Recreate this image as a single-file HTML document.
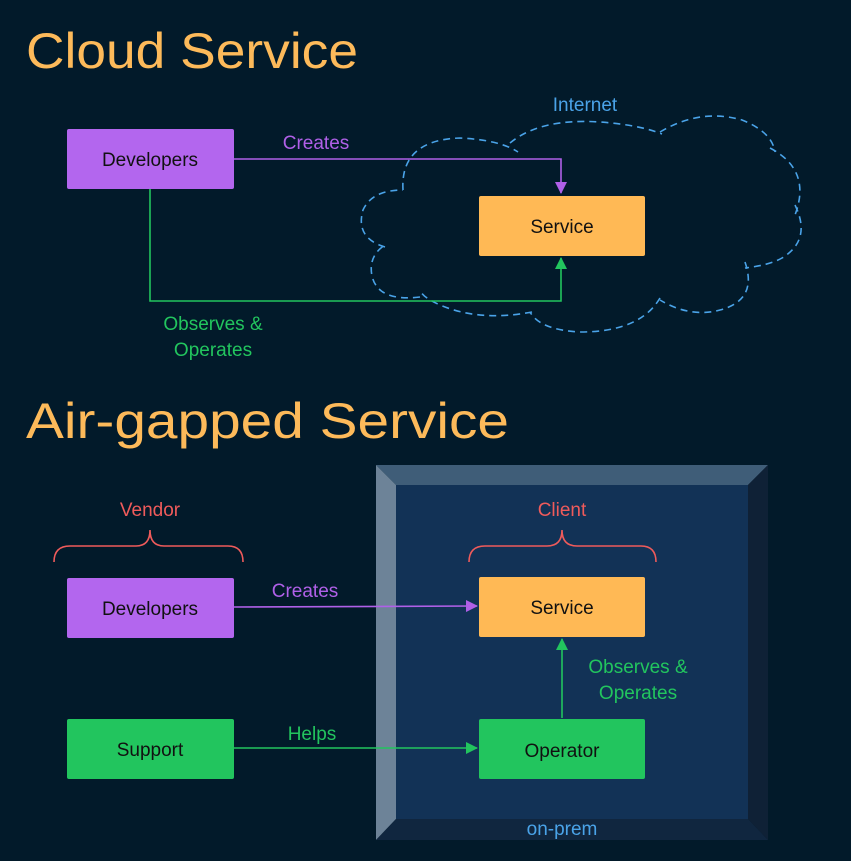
<!DOCTYPE html>
<html><head><meta charset="utf-8"><style>
html,body{margin:0;padding:0;background:#021a2a;}
svg{display:block}
text{font-family:"Liberation Sans",sans-serif;}
</style></head><body>
<svg width="851" height="861" viewBox="0 0 851 861" xmlns="http://www.w3.org/2000/svg">
<rect width="851" height="861" fill="#021a2a"/>
<defs>
<marker id="ap" markerWidth="12" markerHeight="12" refX="11" refY="6" orient="auto" markerUnits="userSpaceOnUse"><path d="M0,0 L12,6 L0,12 Z" fill="#b060e8"/></marker>
<marker id="ag" markerWidth="12" markerHeight="12" refX="11" refY="6" orient="auto" markerUnits="userSpaceOnUse"><path d="M0,0 L12,6 L0,12 Z" fill="#22c55e"/></marker>
</defs>

<text x="26" y="68" font-size="50" fill="#fdba5a" textLength="332" lengthAdjust="spacingAndGlyphs">Cloud Service</text>
<text x="26" y="438" font-size="50" fill="#fdba5a" textLength="483" lengthAdjust="spacingAndGlyphs">Air-gapped Service</text>

<!-- cloud -->
<path d="M403,190 Q400,140 460,138 Q500,140 518,152 M510,143 Q540,118 600,122 Q640,125 662,134 M660,132 Q700,108 742,120 Q772,132 775,152 M770,148 Q812,170 795,215 M795,205 Q812,240 782,258 Q770,265 745,268 M745,262 Q758,300 720,310 Q690,318 660,300 M660,298 Q640,332 580,332 Q540,330 530,312 M532,312 Q480,322 440,305 Q422,297 420,290 M420,297 Q378,302 372,276 Q368,256 385,245 M385,247 Q355,238 363,210 Q372,190 403,190" fill="none" stroke="#4aa3e8" stroke-width="1.6" stroke-dasharray="7,5"/>
<text x="585" y="111" font-size="19" fill="#4aa3e8" text-anchor="middle">Internet</text>

<!-- top diagram -->
<path d="M234,159 L561,159 L561,193" fill="none" stroke="#b060e8" stroke-width="1.6" marker-end="url(#ap)"/>
<text x="316" y="149" font-size="19" fill="#b060e8" text-anchor="middle">Creates</text>
<path d="M150,189 L150,301 L561,301 L561,258" fill="none" stroke="#22c55e" stroke-width="1.6" marker-end="url(#ag)"/>
<text x="213" y="330" font-size="19" fill="#22c55e" text-anchor="middle">Observes &amp;</text>
<text x="213" y="356" font-size="19" fill="#22c55e" text-anchor="middle">Operates</text>
<rect x="67" y="129" width="167" height="60" rx="2" fill="#b366ee"/>
<text x="150" y="166" font-size="19" fill="#111" text-anchor="middle">Developers</text>
<rect x="479" y="196" width="166" height="60" rx="2" fill="#ffb955"/>
<text x="562" y="233" font-size="19" fill="#111" text-anchor="middle">Service</text>

<!-- on-prem box -->
<polygon points="376,465 768,465 748,485 396,485" fill="#3f5d78"/>
<polygon points="376,465 396,485 396,819 376,840" fill="#6d8398"/>
<polygon points="768,465 768,840 748,819 748,485" fill="#0f2136"/>
<polygon points="376,840 396,819 748,819 768,840" fill="#10263f"/>
<rect x="396" y="485" width="352" height="334" fill="#123256"/>
<text x="562" y="835" font-size="19" fill="#4aa3e8" text-anchor="middle">on-prem</text>

<!-- braces -->
<path d="M54,562 Q54,546 70,546 L136,546 Q150,546 150,530 Q150,546 164,546 L228,546 Q243,546 243,562" fill="none" stroke="#ef5b5b" stroke-width="1.6"/>
<text x="150" y="516" font-size="19" fill="#ef5b5b" text-anchor="middle">Vendor</text>
<path d="M469,562 Q469,546 485,546 L547,546 Q562,546 562,530 Q562,546 577,546 L641,546 Q656,546 656,562" fill="none" stroke="#ef5b5b" stroke-width="1.6"/>
<text x="562" y="516" font-size="19" fill="#ef5b5b" text-anchor="middle">Client</text>

<!-- bottom diagram -->
<path d="M234,607 L477,606" fill="none" stroke="#b060e8" stroke-width="1.6" marker-end="url(#ap)"/>
<text x="305" y="597" font-size="19" fill="#b060e8" text-anchor="middle">Creates</text>
<path d="M234,748 L477,748" fill="none" stroke="#22c55e" stroke-width="1.6" marker-end="url(#ag)"/>
<text x="312" y="740" font-size="19" fill="#22c55e" text-anchor="middle">Helps</text>
<path d="M562,718 L562,639" fill="none" stroke="#22c55e" stroke-width="1.6" marker-end="url(#ag)"/>
<text x="638" y="673" font-size="19" fill="#22c55e" text-anchor="middle">Observes &amp;</text>
<text x="638" y="699" font-size="19" fill="#22c55e" text-anchor="middle">Operates</text>

<rect x="67" y="578" width="167" height="60" rx="2" fill="#b366ee"/>
<text x="150" y="615" font-size="19" fill="#111" text-anchor="middle">Developers</text>
<rect x="67" y="719" width="167" height="60" rx="2" fill="#22c55e"/>
<text x="150" y="756" font-size="19" fill="#111" text-anchor="middle">Support</text>
<rect x="479" y="577" width="166" height="60" rx="2" fill="#ffb955"/>
<text x="562" y="614" font-size="19" fill="#111" text-anchor="middle">Service</text>
<rect x="479" y="719" width="166" height="60" rx="2" fill="#22c55e"/>
<text x="562" y="757" font-size="19" fill="#111" text-anchor="middle">Operator</text>
</svg>
</body></html>
